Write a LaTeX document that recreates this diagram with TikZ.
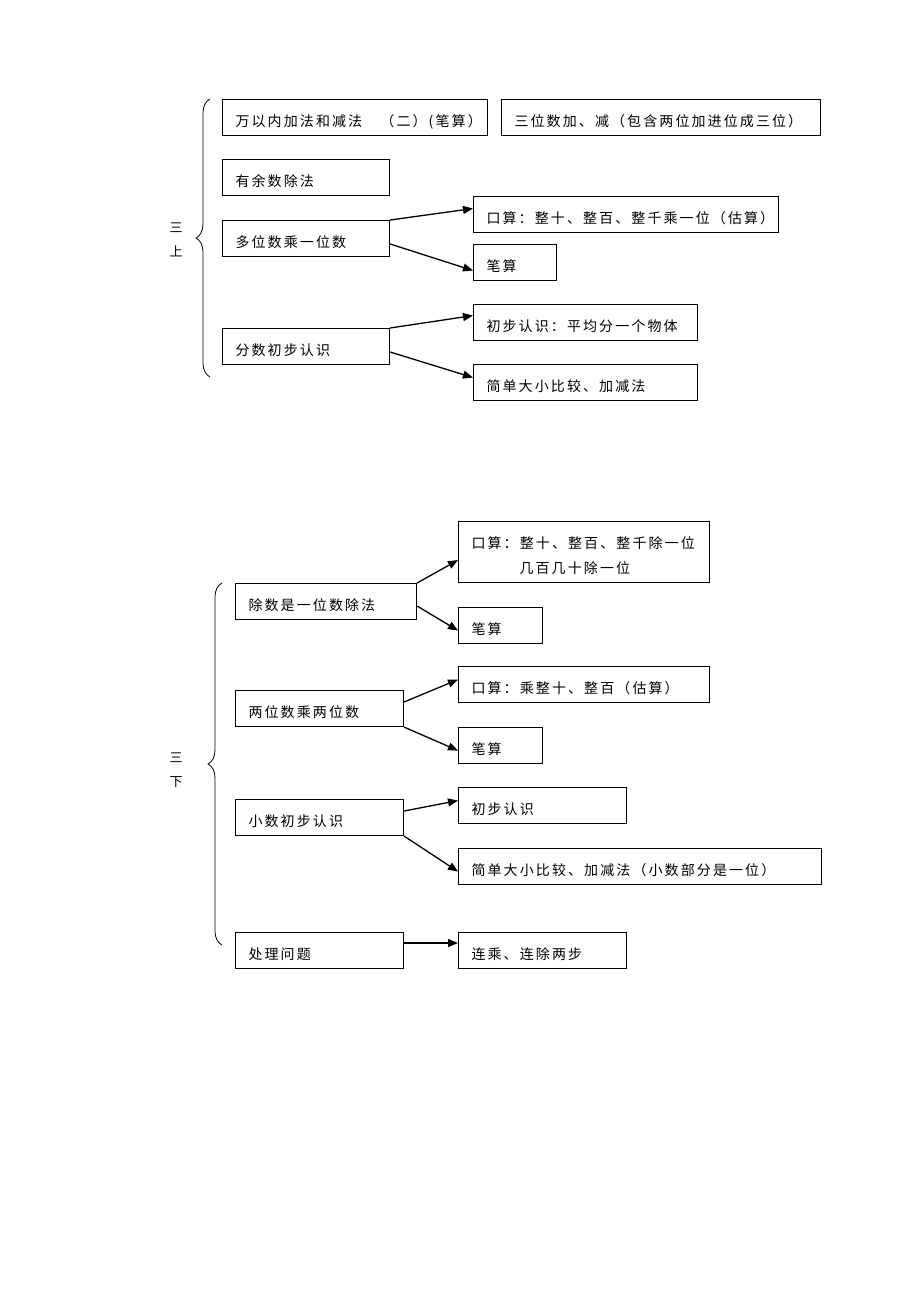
\documentclass[tikz,border=0pt]{standalone}
\usepackage{fontspec}
\setmainfont[LetterSpace=15]{Noto Sans CJK SC}
\usetikzlibrary{arrows.meta,decorations.pathreplacing}

\begin{document}
\begin{tikzpicture}[x=1pt, y=-1pt,
    box/.style={draw, line width=1.1pt, anchor=north west, minimum height=36pt,
        inner xsep=13pt, inner ysep=0pt, align=left, text height=20pt, text depth=2pt,
        font=\fontsize{14}{25}\selectfont},
    term/.style={align=center, font=\fontsize{13}{24}\selectfont},
    link/.style={line width=1.3pt, -{Triangle[length=10pt, width=8pt]}},
    brc/.style={decorate, decoration={brace, amplitude=14pt}, line width=0.8pt}]
    \useasboundingbox (0,0) rectangle (920,1302);

    % san shang
    \node[box, text width=239pt] (wan) at (222,99) {万以内加法和减法　（二）(笔算）};
    \node[box, text width=293pt] (sanwei) at (501,99) {三位数加、减（包含两位加进位成三位）};
    \node[box, text width=141pt] (yushu) at (222,159) {有余数除法};
    \node[box, text width=141pt] (duowei) at (222,220) {多位数乘一位数};
    \node[box, text width=279pt] (kousuanA) at (473,196) {口算：整十、整百、整千乘一位（估算）};
    \node[box, text width=57pt] (bisuanA) at (473,244) {笔算};
    \node[box, text width=141pt] (fenshu) at (222,328) {分数初步认识};
    \node[box, text width=198pt] (chubuA) at (473,304) {初步认识：平均分一个物体};
    \node[box, text width=198pt] (jiandanA) at (473,364) {简单大小比较、加减法};

    \draw[link] (duowei.north east) -- ([yshift=6pt]kousuanA.west);
    \draw[link] ([yshift=-24pt]duowei.north east) -- ([yshift=-8pt]bisuanA.west);
    \draw[link] (fenshu.north east) -- ([yshift=7pt]chubuA.west);
    \draw[link] ([yshift=-24pt]fenshu.north east) -- ([yshift=5pt]jiandanA.west);

    \draw[brc] (210,377) -- (210,99);
    \node[term] (shang) at (176,240) {三\\上};

    % san xia
    \node[box, text width=155pt] (chushu) at (235,583) {除数是一位数除法};
    \node[box, text width=225pt, minimum height=61pt, text height=22pt, text depth=29pt]
        (kousuanC) at (458,521) {口算：整十、整百、整千除一位\\\hspace*{48pt}几百几十除一位};
    \node[box, text width=58pt] (bisuanC) at (458,607) {笔算};
    \node[box, text width=142pt] (liangwei) at (235,690) {两位数乘两位数};
    \node[box, text width=225pt] (kousuanD) at (458,666) {口算：乘整十、整百（估算）};
    \node[box, text width=58pt] (bisuanD) at (458,727) {笔算};
    \node[box, text width=142pt] (xiaoshu) at (235,799) {小数初步认识};
    \node[box, text width=142pt] (chubuB) at (458,787) {初步认识};
    \node[box, text width=337pt] (jiandanB) at (458,848) {简单大小比较、加减法（小数部分是一位）};
    \node[box, text width=142pt] (chuli) at (235,932) {处理问题};
    \node[box, text width=142pt] (lianchu) at (458,932) {连乘、连除两步};

    \draw[link] (chushu.north east) -- ([yshift=-8pt]kousuanC.west);
    \draw[link] ([yshift=-23pt]chushu.north east) -- ([yshift=-5pt]bisuanC.west);
    \draw[link] ([yshift=-12pt]liangwei.north east) -- ([yshift=5pt]kousuanD.west);
    \draw[link] (liangwei.south east) -- ([yshift=-5pt]bisuanD.west);
    \draw[link] ([yshift=-12pt]xiaoshu.north east) -- ([yshift=5pt]chubuB.west);
    \draw[link] (xiaoshu.south east) -- ([yshift=-5pt]jiandanB.west);
    \draw[link] ([yshift=-11pt]chuli.north east) -- ([yshift=-11pt]lianchu.north west);

    \draw[brc] (222,945) -- (222,583);
    \node[term] (xia) at (176,770) {三\\下};
\end{tikzpicture}
\end{document}
